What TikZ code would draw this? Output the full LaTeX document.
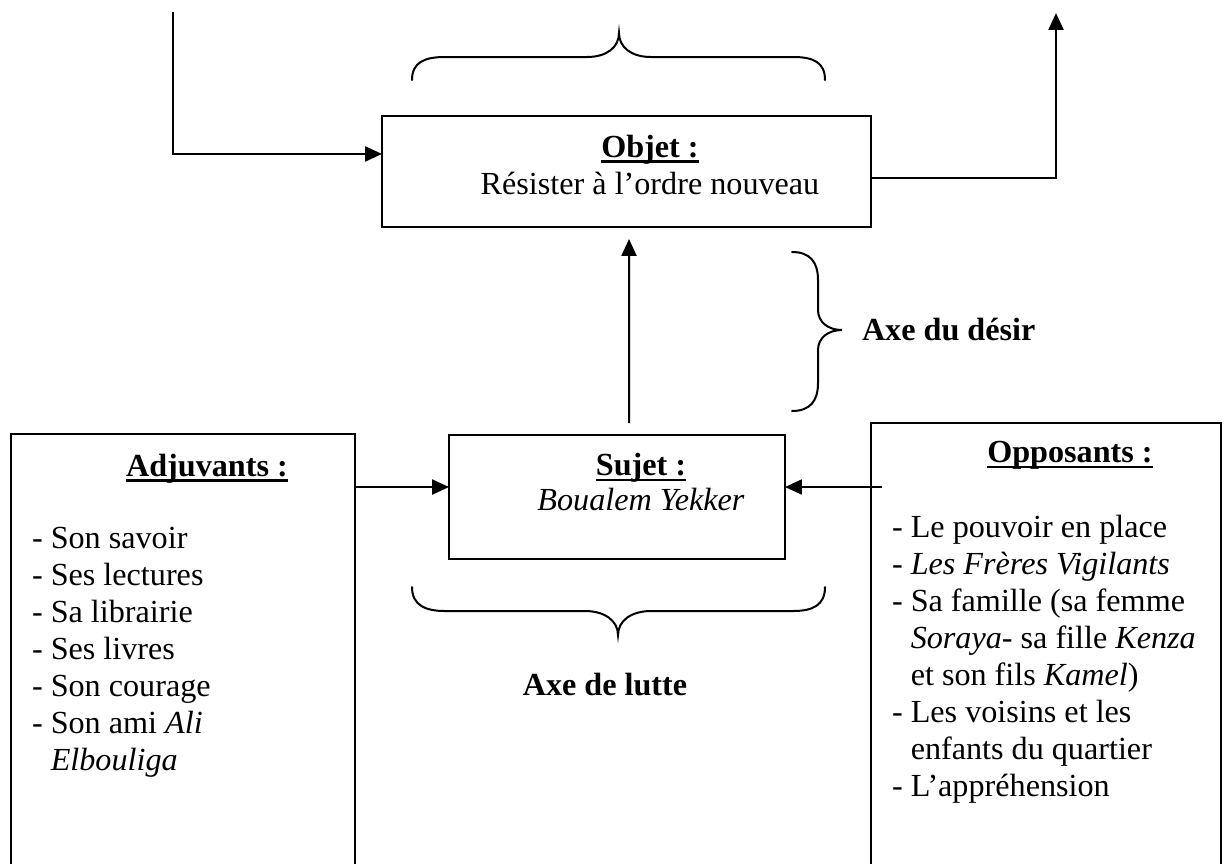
\documentclass[tikz,border=0pt]{standalone}
\usepackage{fontspec}
\setmainfont{Liberation Serif}
\usetikzlibrary{arrows.meta,calc}
% text size used throughout the schema
\newcommand\twelve{\fontsize{12pt}{13.85pt}\selectfont}
% bold heading with a heavy underline
\newcommand\ulbold[1]{\setbox0\hbox{\bfseries #1}\rlap{\rule[-2.3pt]{\wd0}{1pt}}\box0}
\tikzset{
  box/.style={draw, inner sep=0pt, outer sep=0pt},
  txt/.style={inner sep=0pt, outer sep=0pt, font=\twelve},
  btxt/.style={inner sep=0pt, outer sep=0pt, font=\twelve\bfseries},
  arr/.style={-{Triangle[length=6.3pt,width=5.6pt]}},
  brace/.style={line cap=round}
}
\begin{document}
\begin{tikzpicture}[x=0.373pt, y=-0.373pt, line width=0.75pt]
\path[use as bounding box, clip] (0,0) rectangle (1227,863);

% actantial boxes
\node[box, minimum width=489*0.373pt, minimum height=111*0.373pt] (obj) at (626.5,171.5) {};
\node[box, minimum width=336*0.373pt, minimum height=124*0.373pt] (suj) at (617,497) {};
\node[box, minimum width=344*0.373pt, minimum height=446*0.373pt] (adj) at (183,657) {};
\node[box, minimum width=350*0.373pt, minimum height=457*0.373pt] (opp) at (1046,651.5) {};

% box contents
\node[txt, anchor=base] (objt) at (650,157) {\ulbold{Objet :}};
\node[txt, anchor=base] (objd) at (650,194) {Résister à l’ordre nouveau};
\node[txt, anchor=base] (sujt) at (641,475) {\ulbold{Sujet :}};
\node[txt, anchor=base] (sujd) at (641,510) {\textit{Boualem Yekker}};
\node[txt, anchor=base] (adjt) at (207,476) {\ulbold{Adjuvants :}};
\node[txt, anchor=base west] (adjl) at (32,548) {\begin{tabular}[t]{@{}l@{}}
- Son savoir\\
- Ses lectures\\
- Sa librairie\\
- Ses livres\\
- Son courage\\
- Son ami \textit{Ali}\\
\hphantom{- }\textit{Elbouliga}
\end{tabular}};
\node[txt, anchor=base] (oppt) at (1070,462) {\ulbold{Opposants :}};
\node[txt, anchor=base west] (oppl) at (892,537) {\begin{tabular}[t]{@{}l@{}}
- Le pouvoir en place\\
- \textit{Les Frères Vigilants}\\
- Sa famille (sa femme\\
\hphantom{- }\textit{Soraya}- sa fille \textit{Kenza}\\
\hphantom{- }et son fils \textit{Kamel})\\
- Les voisins et les\\
\hphantom{- }enfants du quartier\\
- L’appréhension
\end{tabular}};

% axis labels
\node[btxt, anchor=base west] (desir) at (862,340) {Axe du désir};
\node[btxt, anchor=base] (lutte) at (605,695) {Axe de lutte};

% braces
\draw[brace] (412,80) .. controls (412,62) and (425,57) .. (445,57) -- (587,57)
  .. controls (607,57) and (619,47) .. (619,33)
  .. controls (619,47) and (631,57) .. (651,57) -- (793,57)
  .. controls (813,57) and (825,62) .. (825,80);
\draw[brace] (412,587) .. controls (412,605) and (425,611) .. (445,611) -- (585,611)
  .. controls (605,611) and (618,621) .. (618,635)
  .. controls (618,621) and (631,611) .. (651,611) -- (793,611)
  .. controls (813,611) and (825,605) .. (825,587);
\draw[brace] (792,252) .. controls (810,252) and (818,262) .. (818,280) -- (818,310)
  .. controls (818,322) and (828,330) .. (842,330)
  .. controls (828,330) and (818,338) .. (818,350) -- (818,383)
  .. controls (818,401) and (810,411) .. (792,411);

% connectors
\coordinate (tl) at (173,12);
\coordinate (tr) at (1056,13);
\coordinate (sl) at ($(suj.west)+(0,-10)$);
\coordinate (sr) at ($(suj.east)+(0,-10)$);
\draw[arr] (tl) |- ($(obj.north west)!0.342!(obj.south west)$);
\draw[arr] ($(obj.north east)!0.559!(obj.south east)$) -| (tr);
\draw[arr] ($(suj.north)+(12,-12)$) -- ($(obj.south)+(2.5,12)$);
\draw[arr] (adj.east |- sl) -- (sl);
\draw[arr] ($(opp.west |- sr)+(11,0)$) -- (sr);
\end{tikzpicture}
\end{document}
